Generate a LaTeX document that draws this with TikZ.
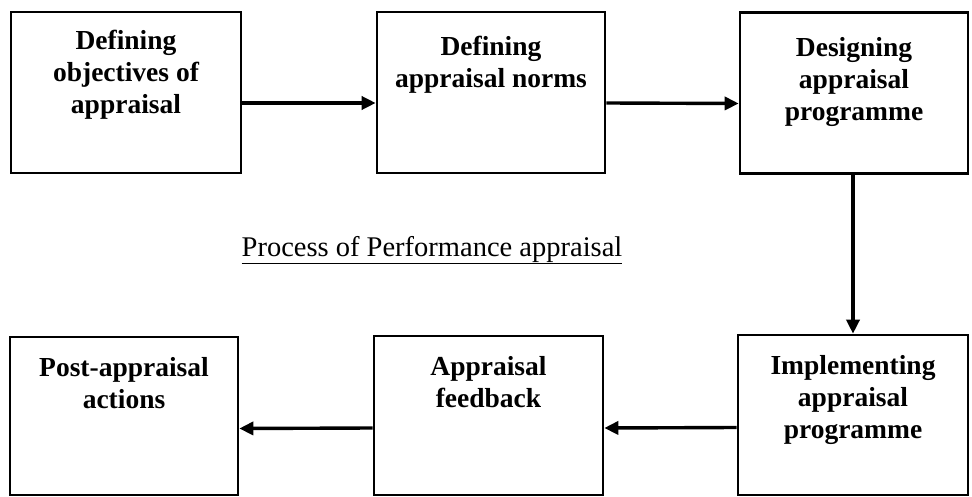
\documentclass[tikz,border=0pt]{standalone}
\usepackage{fontspec}
\setmainfont{Liberation Serif}
\usetikzlibrary{arrows.meta}
\begin{document}
\begin{tikzpicture}[x=1pt,y=-1pt,
  box/.style={draw=black, line width=2.6pt, minimum height=161pt, inner sep=0pt},
  lbl/.style={align=center, font=\fontsize{27.5}{32}\selectfont\bfseries, inner sep=0pt},
  arr/.style={line width=3.4pt, -{Triangle[length=14pt,width=13pt]}}]
\useasboundingbox (0,0) rectangle (972,497);
\fill[white] (0,0) rectangle (972,497);
% boxes
\node[box, minimum width=230pt] (b1) at (126,92.5) {};
\node[box, minimum width=228pt] (b2) at (491,92.5) {};
\node[box, minimum width=228pt] (b3) at (854,93) {};
\node[box, minimum width=228pt, minimum height=158pt] (b4) at (124,416) {};
\node[box, minimum width=229pt, minimum height=159pt] (b5) at (488.5,415.5) {};
\node[box, minimum width=230pt, minimum height=160pt] (b6) at (853,415) {};
% labels
\node[lbl] (t1) at (126,75) {Defining\\objectives of\\appraisal};
\node[lbl] (t2) at (491,65) {Defining\\appraisal norms};
\node[lbl] (t3) at (854,82) {Designing\\appraisal\\programme};
\node[lbl] (t4) at (124,383) {Post-appraisal\\actions};
\node[lbl] (t5) at (488.5,382) {Appraisal\\feedback};
\node[lbl] (t6) at (853,400) {Implementing\\appraisal\\programme};
% title
\node[font=\fontsize{28.5}{32}\selectfont, inner sep=0pt] (title) at (432,250) {\underline{Process of Performance appraisal}};
% connectors
\draw[arr] ([yshift=-10.5pt]b1.east) -- ([yshift=-10.5pt]b2.west);
\draw[arr] ([yshift=-10.5pt]b2.east) -- ([yshift=-10.5pt]b3.west);
\draw[arr] (b3.south -| b6.north) -- (b6.north);
\draw[arr] ([yshift=-12.5pt]b6.west) -- ([yshift=-12.5pt]b5.east);
\draw[arr] ([yshift=-12.5pt]b5.west) -- ([yshift=-12.5pt]b4.east);
\end{tikzpicture}
\end{document}
